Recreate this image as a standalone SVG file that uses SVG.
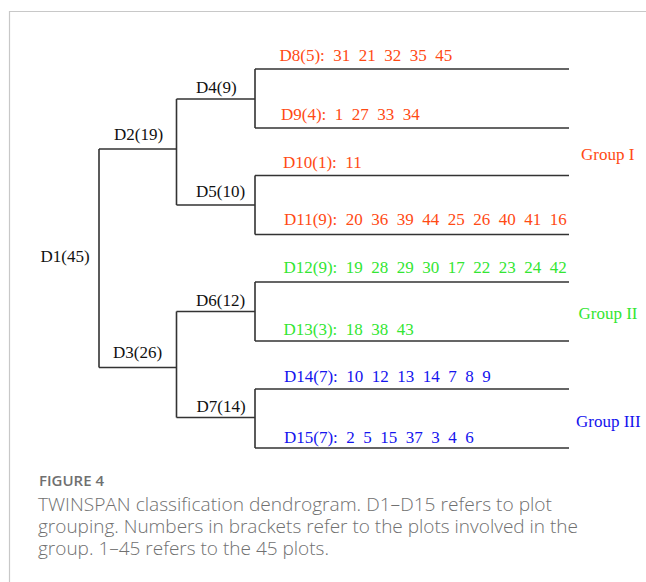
<svg xmlns="http://www.w3.org/2000/svg" width="646" height="582" viewBox="0 0 646 582">
<style>
.t{font-family:"Liberation Serif","Times New Roman",serif;font-size:17px;white-space:pre}
.k{fill:#111}
.r{fill:#ff4a14}
.g{fill:#33e633}
.b{fill:#1414ee}
.ln{stroke:#333;stroke-width:1.6;fill:none}
.cap{font-family:"Open Sans",Lato,sans-serif;fill:#707070}
.cl{font-size:17.5px;font-weight:300}
</style>
<rect width="646" height="582" fill="#fff"/>
<path d="M9.5 582V11.5H646" stroke="#c8c8c8" stroke-width="1.2" fill="none"/>
<g id="connectors" class="ln">
<path d="M99 149H176.5M99 149V367.5M99 367.5H176.5"/>
<path d="M176.5 99V205M176.5 99H255M176.5 205H255"/>
<path d="M176.5 311.5V417.5M176.5 311.5H255M176.5 417.5H255"/>
<path d="M255 69V128M255 175.5V234.5M255 282V341M255 389V448"/>
<path d="M255 69H569M255 128H569M255 175.5H569M255 234.5H569M255 282H569M255 341H569M255 389H569M255 448H569"/>
</g>
<g id="D1"><text class="t k" x="40.5" y="261.5">D1(45)</text></g>
<g id="D2"><text class="t k" x="114" y="139.5">D2(19)</text></g>
<g id="D3"><text class="t k" x="113" y="357.5">D3(26)</text></g>
<g id="D4"><text class="t k" x="196" y="93">D4(9)</text></g>
<g id="D5"><text class="t k" x="196" y="197">D5(10)</text></g>
<g id="D6"><text class="t k" x="196" y="306">D6(12)</text></g>
<g id="D7"><text class="t k" x="196.5" y="412">D7(14)</text></g>
<g id="D8"><text class="t r" x="279.5" y="61">D8(5):  31  21  32  35  45</text></g>
<g id="D9"><text class="t r" x="281" y="120">D9(4):  1  27  33  34</text></g>
<g id="D10"><text class="t r" x="283" y="168">D10(1):  11</text></g>
<g id="D11"><text class="t r" x="284" y="225">D11(9):  20  36  39  44  25  26  40  41  16</text></g>
<g id="D12"><text class="t g" x="283.5" y="272.5">D12(9):  19  28  29  30  17  22  23  24  42</text></g>
<g id="D13"><text class="t g" x="283.5" y="335">D13(3):  18  38  43</text></g>
<g id="D14"><text class="t b" x="284" y="382">D14(7):  10  12  13  14  7  8  9</text></g>
<g id="D15"><text class="t b" x="284" y="442.5">D15(7):  2  5  15  37  3  4  6</text></g>
<g id="groupI"><text class="t r" x="581" y="159.5">Group I</text></g>
<g id="groupII"><text class="t g" x="578.5" y="319">Group II</text></g>
<g id="groupIII"><text class="t b" x="576" y="426.5">Group III</text></g>
<g id="caption">
<text class="cap" x="39" y="486" font-size="14" font-weight="600" textLength="65" lengthAdjust="spacingAndGlyphs">FIGURE 4</text>
<text class="cap cl" x="38" y="511" textLength="514" lengthAdjust="spacingAndGlyphs">TWINSPAN classification dendrogram. D1–D15 refers to plot</text>
<text class="cap cl" x="38" y="533" textLength="540" lengthAdjust="spacingAndGlyphs">grouping. Numbers in brackets refer to the plots involved in the</text>
<text class="cap cl" x="38" y="555" textLength="291" lengthAdjust="spacingAndGlyphs">group. 1–45 refers to the 45 plots.</text>
</g>
</svg>
